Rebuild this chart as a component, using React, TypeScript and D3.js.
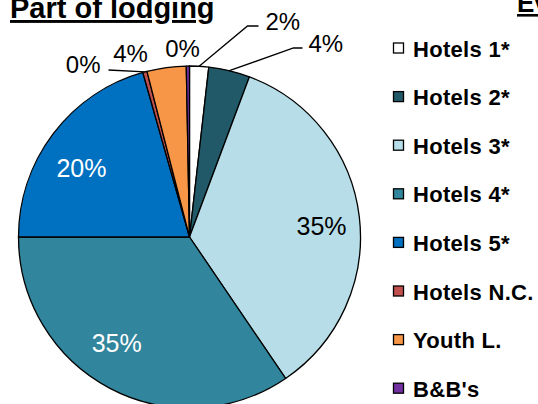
import React from "react";
import * as d3 from "d3";

const categories = ["Hotels 1*", "Hotels 2*", "Hotels 3*", "Hotels 4*", "Hotels 5*", "Hotels N.C.", "Youth L.", "B&B's"];
const shares = [1.8, 3.9, 34.8, 34.5, 20.6, 0.4, 3.7, 0.3];
const shareLabels = ["2%", "4%", "35%", "35%", "20%", "0%", "4%", "0%"];
const colors = ["#FFFFFF", "#215968", "#B7DEE8", "#31859C", "#0070C0", "#C0504D", "#F79646", "#7030A0"];

// label layout (not data): outside labels are placed relative to the pie centre,
// inside labels are nudged from the slice centroid
type LabelLayout = { inside: boolean; dx: number; dy: number; anchor?: string; leader?: [number, number][]; fill?: string };
const labelLayout: LabelLayout[] = [
  { inside: false, dx: 76, dy: -207, anchor: "start", leader: [[58, -211], [69, -211]] },
  { inside: false, dx: 119, dy: -185, anchor: "start", leader: [[104, -189], [113, -189]] },
  { inside: true, dx: 3, dy: 4.5, fill: "#000" },
  { inside: true, dx: -12, dy: -8.4, fill: "#fff" },
  { inside: true, dx: -4.4, dy: 9, fill: "#fff" },
  { inside: false, dx: -89, dy: -164, anchor: "end", leader: [[-81, -167]] },
  { inside: false, dx: -59, dy: -175, anchor: "middle" },
  { inside: false, dx: -7, dy: -180, anchor: "middle" },
];

export default function App() {
  const W = 538, H = 404;
  const cx = 189.5, cy = 237, R = 171;
  const pie = d3.pie<number>().value((d) => d).sort(null);
  const arcs = pie(shares);
  const arc = d3.arc<d3.PieArcDatum<number>>().innerRadius(0).outerRadius(R);
  const labelArc = d3.arc<d3.PieArcDatum<number>>().innerRadius(130).outerRadius(130);
  const edgeArc = d3.arc<d3.PieArcDatum<number>>().innerRadius(R).outerRadius(R);

  const legendX = 393, legendY0 = 56.5, legendStep = 48.6;

  return (
    <svg width={W} height={H} style={{ position: "absolute", left: 0, top: 0, background: "#fff" }}
      fontFamily="'Liberation Sans', Arial, sans-serif">
      <text x={10} y={18} fontSize={29} fontWeight="bold" textDecoration="underline" fill="#000">Part of lodging</text>
      <text x={517} y={12} fontSize={26} fontWeight="bold" textDecoration="underline" fill="#000">Evolution</text>
      <g transform={`translate(${cx},${cy})`}>
        {arcs.map((a, i) => (
          <path key={i} d={arc(a) || ""} fill={colors[i]} stroke="#000" strokeWidth={1.3} strokeLinejoin="round" />
        ))}
        {arcs.map((a, i) => {
          const L = labelLayout[i];
          if (L.inside) {
            const [x, y] = labelArc.centroid(a);
            return (
              <text key={"l" + i} x={x + L.dx} y={y + L.dy + 9} textAnchor="middle" fontSize={25} fill={L.fill}>{shareLabels[i]}</text>
            );
          }
          const [ex, ey] = edgeArc.centroid(a);
          const pts: [number, number][] = [[ex, ey], ...(L.leader || [])];
          return (
            <g key={"l" + i}>
              {L.leader && <polyline points={pts.map((p) => p.join(",")).join(" ")} fill="none" stroke="#000" strokeWidth={1.3} />}
              <text x={L.dx} y={L.dy} textAnchor={L.anchor} fontSize={24} fill="#000">{shareLabels[i]}</text>
            </g>
          );
        })}
      </g>
      {categories.map((c, i) => (
        <g key={c} transform={`translate(${legendX},${legendY0 + i * legendStep})`}>
          <rect x={0.5} y={-13.5} width={10} height={10} fill={colors[i]} stroke="#000" strokeWidth={1.3} />
          <text x={20} y={0} fontSize={22} fontWeight="bold" letterSpacing={0.3} fill="#000">{c}</text>
        </g>
      ))}
    </svg>
  );
}
